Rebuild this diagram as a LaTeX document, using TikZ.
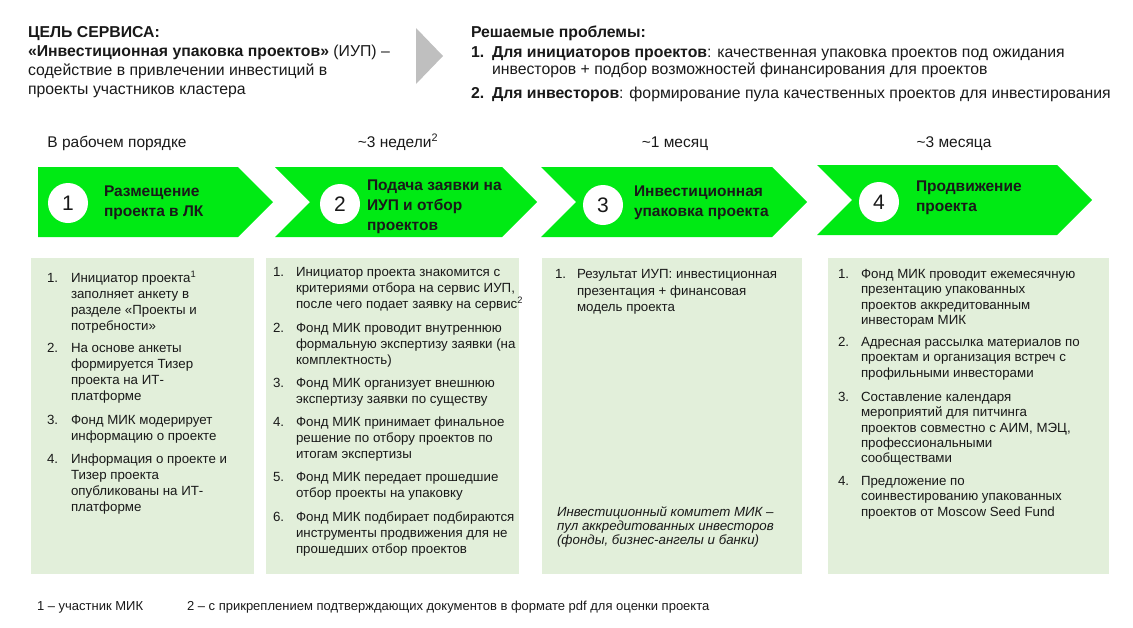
\documentclass[tikz,border=0pt]{standalone}
\usepackage{fontspec}
\setmainfont{Liberation Sans}
\definecolor{chev}{RGB}{0,234,20}
\definecolor{boxg}{RGB}{226,239,218}
\definecolor{tri}{RGB}{191,191,191}
\definecolor{txt}{RGB}{25,25,25}
\newcommand\topstrutx{\rule{0pt}{15pt}}
\begin{document}
\begin{tikzpicture}[x=1pt,y=-1pt,
  every node/.style={inner sep=0pt, outer sep=0pt, text=txt},
  firstbase/.style={anchor=north west, yshift=15pt},
  body/.style={font=\fontsize{13.3}{#1}\selectfont, align=left, firstbase},
  body/.default=16,
  ital/.style={font=\itshape\fontsize{13.3}{14.2}\selectfont, align=left, firstbase},
  num/.style={font=\fontsize{13.3}{16}\selectfont, anchor=base west},
  chevtext/.style={font=\bfseries\fontsize{15.5}{20}\selectfont, align=left, firstbase},
  circ/.style={circle, fill=white, minimum size=40pt, font=\fontsize{21}{21}\selectfont},
  timing/.style={font=\fontsize{15.5}{18}\selectfont, anchor=base},
  head/.style={font=\fontsize{15.8}{#1}\selectfont, align=left, firstbase},
  head/.default=19,
  foot/.style={font=\fontsize{13}{15}\selectfont, anchor=base west},
  panel/.style={fill=boxg, draw=none},
  chevron/.style={fill=chev, draw=none}
]
\useasboundingbox (0,0) rectangle (1133,627);

% ---------- header ----------
\node[head] (goal) at (28,37.3) {\topstrutx\textbf{ЦЕЛЬ СЕРВИСА:}\\
\textbf{«Инвестиционная упаковка проектов»} (ИУП) –\\
содействие в привлечении инвестиций в\\
проекты участников кластера};

\fill[tri] (416,28) -- (443,56) -- (416,84) -- cycle;

\node[head] (probt) at (471,37) {\topstrutx\textbf{Решаемые проблемы:}};
\node[head] (pn1) at (471,57) {\topstrutx\textbf{1.}};
\node[head=17.5] (pt1) at (492,57) {\topstrutx\textbf{Для инициаторов проектов}: качественная упаковка проектов под ожидания\\
инвесторов + подбор возможностей финансирования для проектов};
\node[head] (pn2) at (471,98) {\topstrutx\textbf{2.}};
\node[head] (pt2) at (492,98) {\topstrutx\textbf{Для инвесторов}: формирование пула качественных проектов для инвестирования};

% ---------- timing ----------
\node[timing] (t1) at (117,147) {В рабочем порядке};
\node[timing] (t2) at (398,147) {\textasciitilde3 недели\textsuperscript{2}};
\node[timing] (t3) at (675,147) {\textasciitilde1 месяц};
\node[timing] (t4) at (954,147) {\textasciitilde3 месяца};

% ---------- chevrons ----------
\fill[chevron] (38,167) -- (238,167) -- (273,202) -- (238,237) -- (38,237) -- cycle;
\fill[chevron] (275,167) -- (502,167) -- (537,202) -- (502,237) -- (275,237) -- (310,202) -- cycle;
\fill[chevron] (541,167) -- (772,167) -- (807,202) -- (772,237) -- (541,237) -- (576,202) -- cycle;
\fill[chevron] (817,165) -- (1057,165) -- (1092,200) -- (1057,235) -- (817,235) -- (852,200) -- cycle;

\node[circ] (c1) at (68,203) {1};
\node[circ] (c2) at (340,204) {2};
\node[circ] (c3) at (603,205) {3};
\node[circ] (c4) at (879,202) {4};

\node[chevtext] (h1) at (104,196.7) {\topstrutx Размещение\\проекта в ЛК};
\node[chevtext] (h2) at (367,190) {\topstrutx Подача заявки на\\ИУП и отбор\\проектов};
\node[chevtext] (h3) at (634,196.7) {\topstrutx Инвестиционная\\упаковка проекта};
\node[chevtext] (h4) at (916,191.5) {\topstrutx Продвижение\\проекта};

% ---------- panels ----------
\fill[panel] (31,258) rectangle (254,574);
\fill[panel] (266,258) rectangle (519,574);
\fill[panel] (542,258) rectangle (802,574);
\fill[panel] (828,258) rectangle (1109,574);

% panel 1
\node[num] (a1n) at (47,282.5) {1.};
\node[body] (a1) at (71,282.5) {\topstrutx Инициатор проекта\textsuperscript{1}\\заполняет анкету в\\разделе «Проекты и\\потребности»};
\node[num] (a2n) at (47,352.5) {2.};
\node[body] (a2) at (71,352.5) {\topstrutx На основе анкеты\\формируется Тизер\\проекта на ИТ-\\платформе};
\node[num] (a3n) at (47,424.5) {3.};
\node[body] (a3) at (71,424.5) {\topstrutx Фонд МИК модерирует\\информацию о проекте};
\node[num] (a4n) at (47,463.5) {4.};
\node[body] (a4) at (71,463.5) {\topstrutx Информация о проекте и\\Тизер проекта\\опубликованы на ИТ-\\платформе};

% panel 2
\node[num] (b1n) at (273,276.5) {1.};
\node[body] (b1) at (296,276.5) {\topstrutx Инициатор проекта знакомится с\\критериями отбора на сервис ИУП,\\после чего подает заявку на сервис\textsuperscript{2}};
\node[num] (b2n) at (273,332.5) {2.};
\node[body] (b2) at (296,332.5) {\topstrutx Фонд МИК проводит внутреннюю\\формальную экспертизу заявки (на\\комплектность)};
\node[num] (b3n) at (273,387.5) {3.};
\node[body] (b3) at (296,387.5) {\topstrutx Фонд МИК организует внешнюю\\экспертизу заявки по существу};
\node[num] (b4n) at (273,426.5) {4.};
\node[body] (b4) at (296,426.5) {\topstrutx Фонд МИК принимает финальное\\решение по отбору проектов по\\итогам экспертизы};
\node[num] (b5n) at (273,481.5) {5.};
\node[body] (b5) at (296,481.5) {\topstrutx Фонд МИК передает прошедшие\\отбор проекты на упаковку};
\node[num] (b6n) at (273,521.5) {6.};
\node[body] (b6) at (296,521.5) {\topstrutx Фонд МИК подбирает подбираются\\инструменты продвижения для не\\прошедших отбор проектов};

% panel 3
\node[num] (c1n) at (555,278.5) {1.};
\node[body=16.5] (cc1) at (577,278.5) {\topstrutx Результат ИУП: инвестиционная\\презентация + финансовая\\модель проекта};
\node[ital] (ci) at (557,516.5) {\topstrutx Инвестиционный комитет МИК –\\пул аккредитованных инвесторов\\(фонды, бизнес-ангелы и банки)};

% panel 4
\node[num] (d1n) at (838,278.5) {1.};
\node[body=15.3] (d1) at (861,278.5) {\topstrutx Фонд МИК проводит ежемесячную\\презентацию упакованных\\проектов аккредитованным\\инвесторам МИК};
\node[num] (d2n) at (838,346.5) {2.};
\node[body=15.3] (d2) at (861,346.5) {\topstrutx Адресная рассылка материалов по\\проектам и организация встреч с\\профильными инвесторами};
\node[num] (d3n) at (838,401.5) {3.};
\node[body=15.3] (d3) at (861,401.5) {\topstrutx Составление календаря\\мероприятий для питчинга\\проектов совместно с АИМ, МЭЦ,\\профессиональными\\сообществами};
\node[num] (d4n) at (838,485.5) {4.};
\node[body=15.3] (d4) at (861,485.5) {\topstrutx Предложение по\\соинвестированию упакованных\\проектов от Moscow Seed Fund};

% ---------- footnotes ----------
\node[foot] (f1) at (37,610.5) {1 – участник МИК};
\node[foot] (f2) at (187,610.5) {2 – с прикреплением подтверждающих документов в формате pdf для оценки проекта};
\end{tikzpicture}
\end{document}
